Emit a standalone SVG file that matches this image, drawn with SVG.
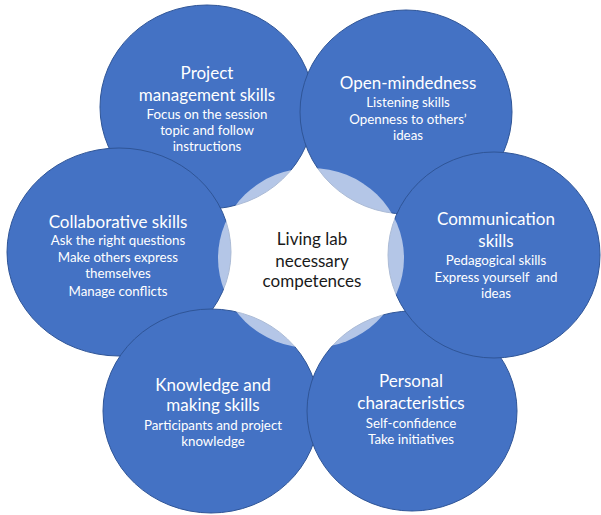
<svg xmlns="http://www.w3.org/2000/svg" width="601" height="515" viewBox="0 0 601 515">
<style>
.c{fill:#4472C4;stroke:#2F5597;stroke-width:1}
.t{font-family:Lato,"Liberation Sans",sans-serif;fill:#FFFFFF;text-anchor:middle}
.h{font-size:17px}
.b{font-size:13.3px}
.m{font-family:Lato,"Liberation Sans",sans-serif;fill:#1a1a1a;text-anchor:middle;font-size:17px}
</style>
<rect width="601" height="515" fill="#FFFFFF"/>
<g id="connectors"/>
<g id="project-management">
<ellipse class="c" cx="207" cy="107" rx="107" ry="102"/>
<text class="t h" x="207" y="79">Project</text>
<text class="t h" x="207" y="101">management skills</text>
<text class="t b" x="207" y="119">Focus on the session</text>
<text class="t b" x="207" y="135">topic and follow</text>
<text class="t b" x="207" y="151">instructions</text>
</g>
<g id="open-mindedness">
<ellipse class="c" cx="406" cy="112" rx="106" ry="102"/>
<text class="t h" x="408" y="89">Open-mindedness</text>
<text class="t b" x="408" y="107">Listening skills</text>
<text class="t b" x="408" y="124">Openness to others’</text>
<text class="t b" x="408" y="140">ideas</text>
</g>
<g id="collaborative">
<ellipse class="c" cx="119" cy="252" rx="112" ry="104"/>
<text class="t h" x="118" y="228">Collaborative skills</text>
<text class="t b" x="118" y="245">Ask the right questions</text>
<text class="t b" x="118" y="262">Make others express</text>
<text class="t b" x="118" y="278">themselves</text>
<text class="t b" x="118" y="296">Manage conflicts</text>
</g>
<g id="knowledge">
<ellipse class="c" cx="211" cy="411" rx="108" ry="102"/>
<text class="t h" x="213" y="391">Knowledge and</text>
<text class="t h" x="213" y="411">making skills</text>
<text class="t b" x="213" y="430">Participants and project</text>
<text class="t b" x="213" y="446">knowledge</text>
</g>
<g id="personal">
<ellipse class="c" cx="412" cy="411" rx="105" ry="100"/>
<text class="t h" x="411" y="387">Personal</text>
<text class="t h" x="411" y="409">characteristics</text>
<text class="t b" x="411" y="428">Self-confidence</text>
<text class="t b" x="411" y="444">Take initiatives</text>
</g>
<g id="communication">
<ellipse class="c" cx="494" cy="255" rx="106" ry="103"/>
<text class="t h" x="496" y="225">Communication</text>
<text class="t h" x="496" y="247">skills</text>
<text class="t b" x="496" y="265">Pedagogical skills</text>
<text class="t b" x="496" y="282" xml:space="preserve">Express yourself  and</text>
<text class="t b" x="496" y="298">ideas</text>
</g>
<g id="center">
<ellipse cx="311" cy="258" rx="93" ry="90" fill="#FFFFFF" fill-opacity="0.6"/>
<text class="m" x="312" y="245">Living lab</text>
<text class="m" x="312" y="267">necessary</text>
<text class="m" x="312" y="287">competences</text>
</g>
</svg>
